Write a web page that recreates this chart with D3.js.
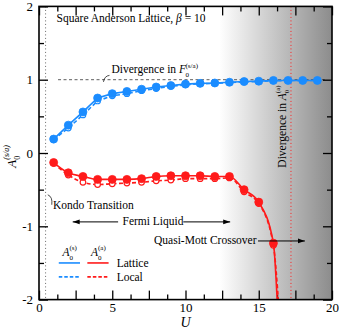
<!DOCTYPE html>
<html><head><meta charset="utf-8">
<script src="https://cdn.jsdelivr.net/npm/d3@7"></script>
<style>
body{margin:0;background:#fff;}
svg text{font-family:"Liberation Serif","DejaVu Serif",serif !important;fill:#000;}
</style></head>
<body><svg id="c" width="339" height="332" font-family="Liberation Serif"></svg>
<script>
const U = [1,2,3,4,5,6,7,8,9,10,11,12,13,14,15,16,17,18,19];
const sLattice = [0.19,0.38,0.56,0.75,0.81,0.84,0.87,0.90,0.92,0.94,0.95,0.955,0.965,0.975,0.98,0.99,0.99,0.99,0.99];
const sLocal   = [0.18,0.34,0.52,0.71,0.78,0.81,0.85,0.88,0.91,0.93,0.945,0.95,0.96,0.97,0.975,0.985,0.99,0.99,0.99];
const Ua = [1,2,3,4,5,6,7,8,9,10,11,12,13,14,15,16];
const aLattice = [-0.13,-0.27,-0.32,-0.36,-0.36,-0.36,-0.35,-0.32,-0.31,-0.31,-0.31,-0.32,-0.32,-0.50,-0.67,-1.23];
const aLocal   = [-0.14,-0.30,-0.40,-0.43,-0.42,-0.41,-0.40,-0.38,-0.37,-0.35,-0.35,-0.35,-0.34,-0.53,-0.69,-1.26];
const aLatticeTail = [16.28,-2.1];
const aLocalTail = [16.37,-2.1];
const xMajor = [0,2.5,5,7.5,10,12.5,15,17.5,20];
const xMinor = [1.25,3.75,6.25,8.75,11.25,13.75,16.25,18.75];
const xLabels = [0,5,10,15,20];
const yMajor = [-2,-1,0,1,2];
const yMinor = [-1.5,-0.5,0.5,1.5];
const kondoU = 0.45, divU = 17.2, shadeStart = 12.3;

const blue = "#1a8cff", red = "#ff1a1a";
const svg = d3.select("#c");
const L=39, R=332, T=6.4, B=299.6;
const x = d3.scaleLinear().domain([0,20]).range([L,R]);
const y = d3.scaleLinear().domain([-2,2]).range([B,T]);
const SERIF = "Liberation Serif";

const defs = svg.append("defs");
const g = defs.append("linearGradient").attr("id","shade").attr("gradientUnits","userSpaceOnUse")
  .attr("x1",x(shadeStart)).attr("x2",x(20)).attr("y1",0).attr("y2",0);
g.append("stop").attr("offset",0).attr("stop-color","#ffffff");
g.append("stop").attr("offset",1).attr("stop-color","#8c8c8c");
defs.append("clipPath").attr("id","clip").append("rect").attr("x",L).attr("y",T).attr("width",R-L).attr("height",B-T);

svg.append("rect").attr("x",L).attr("y",T).attr("width",R-L).attr("height",B-T).attr("fill","url(#shade)");

// reference lines
svg.append("line").attr("x1",x(kondoU)).attr("x2",x(kondoU)).attr("y1",T).attr("y2",B)
  .attr("stroke","#666").attr("stroke-width",1).attr("stroke-dasharray","1,2.5");
svg.append("line").attr("x1",x(divU)).attr("x2",x(divU)).attr("y1",T).attr("y2",B)
  .attr("stroke",red).attr("stroke-width",1).attr("stroke-dasharray","1,2.5");
svg.append("line").attr("x1",x(1.3)).attr("x2",x(19.5)).attr("y1",y(1)).attr("y2",y(1))
  .attr("stroke","#333").attr("stroke-width",0.8).attr("stroke-dasharray","3,2.5");

// axes
function ax(axisFn, vals, size, fmt, transform){
  const a = svg.append("g").attr("transform",transform)
    .call(axisFn.tickValues(vals).tickSize(size).tickSizeOuter(0).tickPadding(5).tickFormat(fmt));
  a.attr("font-family",SERIF).attr("font-size",13);
  a.select(".domain").remove();
  a.selectAll("line").attr("stroke","#000").attr("stroke-width",1.3);
  a.selectAll("text").attr("font-family",SERIF).style("font-size","13px");
  return a;
}
const none = () => "";
ax(d3.axisBottom(x), xMajor, -9, d => xLabels.includes(d) ? d : "", `translate(0,${B})`).selectAll("text").attr("y",3).attr("dy","0.72em");
ax(d3.axisBottom(x), xMinor, -5, none, `translate(0,${B})`);
ax(d3.axisTop(x), xMajor, -9, none, `translate(0,${T})`);
ax(d3.axisTop(x), xMinor, -5, none, `translate(0,${T})`);
ax(d3.axisLeft(y), yMajor, -9, d => d<0 ? "-"+Math.abs(d) : d, `translate(${L},0)`).selectAll("text").attr("x",-6);
ax(d3.axisLeft(y), yMinor, -5, none, `translate(${L},0)`);
ax(d3.axisRight(y), yMajor, -9, none, `translate(${R},0)`);
ax(d3.axisRight(y), yMinor, -5, none, `translate(${R},0)`);

// data
const plot = svg.append("g").attr("clip-path","url(#clip)");
const lin = d3.line().x(d=>x(d[0])).y(d=>y(d[1]));
const mono = d3.line().x(d=>x(d[0])).y(d=>y(d[1])).curve(d3.curveMonotoneX);
const sLatPts = U.map((u,i)=>[u,sLattice[i]]);
const sLocPts = U.map((u,i)=>[u,sLocal[i]]);
const aLatPts = Ua.map((u,i)=>[u,aLattice[i]]);
const aLocPts = Ua.map((u,i)=>[u,aLocal[i]]);

function series(pts, tail, color, dashed, curve){
  const all = tail ? pts.concat([tail]) : pts;
  plot.append("path").attr("d",curve(all)).attr("fill","none").attr("stroke",color)
    .attr("stroke-width",1.6).attr("stroke-dasharray",dashed?"4,2.5":null);
  plot.selectAll(null).data(pts).enter().append("circle")
    .attr("cx",d=>x(d[0])).attr("cy",d=>y(d[1])).attr("r",dashed?2.8:4)
    .attr("fill",dashed?"#fff":color).attr("stroke",color).attr("stroke-width",dashed?1.2:0.8);
}
series(sLocPts,null,blue,true,lin);
series(aLocPts,aLocalTail,red,true,mono);
series(sLatPts,null,blue,false,lin);
series(aLatPts,aLatticeTail,red,false,mono);

svg.append("rect").attr("x",L).attr("y",T).attr("width",R-L).attr("height",B-T)
  .attr("fill","none").attr("stroke","#000").attr("stroke-width",1.6);

// annotations
const fs = "11.5px";
function txt(xx,yy){ return svg.append("text").attr("x",xx).attr("y",yy).attr("font-family",SERIF).style("font-size",fs); }
txt(x(1.2),y(1.79)).html('Square Anderson Lattice, <tspan font-style="italic">β</tspan> = 10');

// divergence in F
svg.append("path").attr("d",`M${x(4.4)},${y(0.97)} q1,-6 6,-6.5`).attr("fill","none").attr("stroke","#000").attr("stroke-width",0.7);
const dF = txt(x(4.95),y(1.09));
dF.append("tspan").text("Divergence in ");
dF.append("tspan").attr("font-style","italic").text("F");
dF.append("tspan").attr("dy",3.5).attr("dx",-0.5).style("font-size","7px").text("0");
dF.append("tspan").attr("dy",-9).attr("dx",-3.5).style("font-size","7px").text("(s/a)");

// vertical divergence in A
const dA = svg.append("text").attr("transform",`translate(${x(16.85)},${y(-0.2)}) rotate(-90)`).attr("font-family",SERIF).style("font-size",fs);
dA.append("tspan").text("Divergence in ");
dA.append("tspan").attr("font-style","italic").text("A");
dA.append("tspan").attr("dy",3.5).style("font-size","7px").text("0");
dA.append("tspan").attr("dy",-9).attr("dx",-3.5).style("font-size","7px").text("(a)");

// Kondo transition
svg.append("path").attr("d",`M${x(0.6)},${y(-0.57)} q5,2 4,10`).attr("fill","none").attr("stroke","#000").attr("stroke-width",0.7);
txt(x(0.95),y(-0.76)).text("Kondo Transition");

// arrows
defs.append("marker").attr("id","arr").attr("viewBox","0 0 10 10").attr("refX",10).attr("refY",5)
  .attr("markerWidth",7).attr("markerHeight",7).attr("markerUnits","userSpaceOnUse").attr("orient","auto")
  .append("path").attr("d","M0,1.5 L10,5 L0,8.5 Z").attr("fill","#000");
function arrow(u1,u2,v){
  svg.append("line").attr("x1",x(u1)).attr("x2",x(u2)).attr("y1",y(v)).attr("y2",y(v))
    .attr("stroke","#000").attr("stroke-width",1).attr("marker-end","url(#arr)");
}
arrow(5.4,2.3,-0.94);
arrow(9.85,13.05,-0.94);
txt(x(5.7),y(-0.98)).text("Fermi Liquid");
txt(x(7.85),y(-1.235)).text("Quasi-Mott Crossover");
arrow(14.95,18.15,-1.2);

// legend
function legLine(u1,u2,v,color,dashed){
  svg.append("line").attr("x1",x(u1)).attr("x2",x(u2)).attr("y1",y(v)).attr("y2",y(v))
    .attr("stroke",color).attr("stroke-width",1.6).attr("stroke-dasharray",dashed?"3.5,2":null);
}
function aLab(xx,yy,sup){
  const t = txt(xx,yy);
  t.append("tspan").attr("font-style","italic").text("A");
  t.append("tspan").attr("dy",3.5).attr("dx",0).style("font-size","7px").text("0");
  t.append("tspan").attr("dy",-9.5).attr("dx",-3.5).style("font-size","7px").text(sup);
}
aLab(x(1.6),y(-1.41),"(s)");
aLab(x(3.55),y(-1.41),"(a)");
legLine(1.35,2.8,-1.5,blue,false);
legLine(3.3,4.75,-1.5,red,false);
legLine(1.35,2.8,-1.69,blue,true);
legLine(3.3,4.75,-1.69,red,true);
txt(x(5.3),y(-1.55)).text("Lattice");
txt(x(5.3),y(-1.74)).text("Local");

// axis titles
const yl = svg.append("text").attr("transform",`translate(16,${y(-0.2)}) rotate(-90)`).attr("font-family",SERIF).style("font-size","13px");
yl.append("tspan").attr("font-style","italic").text("A");
yl.append("tspan").attr("dy",4).style("font-size","8px").text("0");
yl.append("tspan").attr("dy",-11).attr("dx",-4).style("font-size","8px").attr("font-style","italic").text("(s/a)");
svg.append("text").attr("x",x(10)).attr("y",327).attr("text-anchor","middle").attr("font-family",SERIF).style("font-size","14px").attr("font-style","italic").text("U");
</script></body></html>
